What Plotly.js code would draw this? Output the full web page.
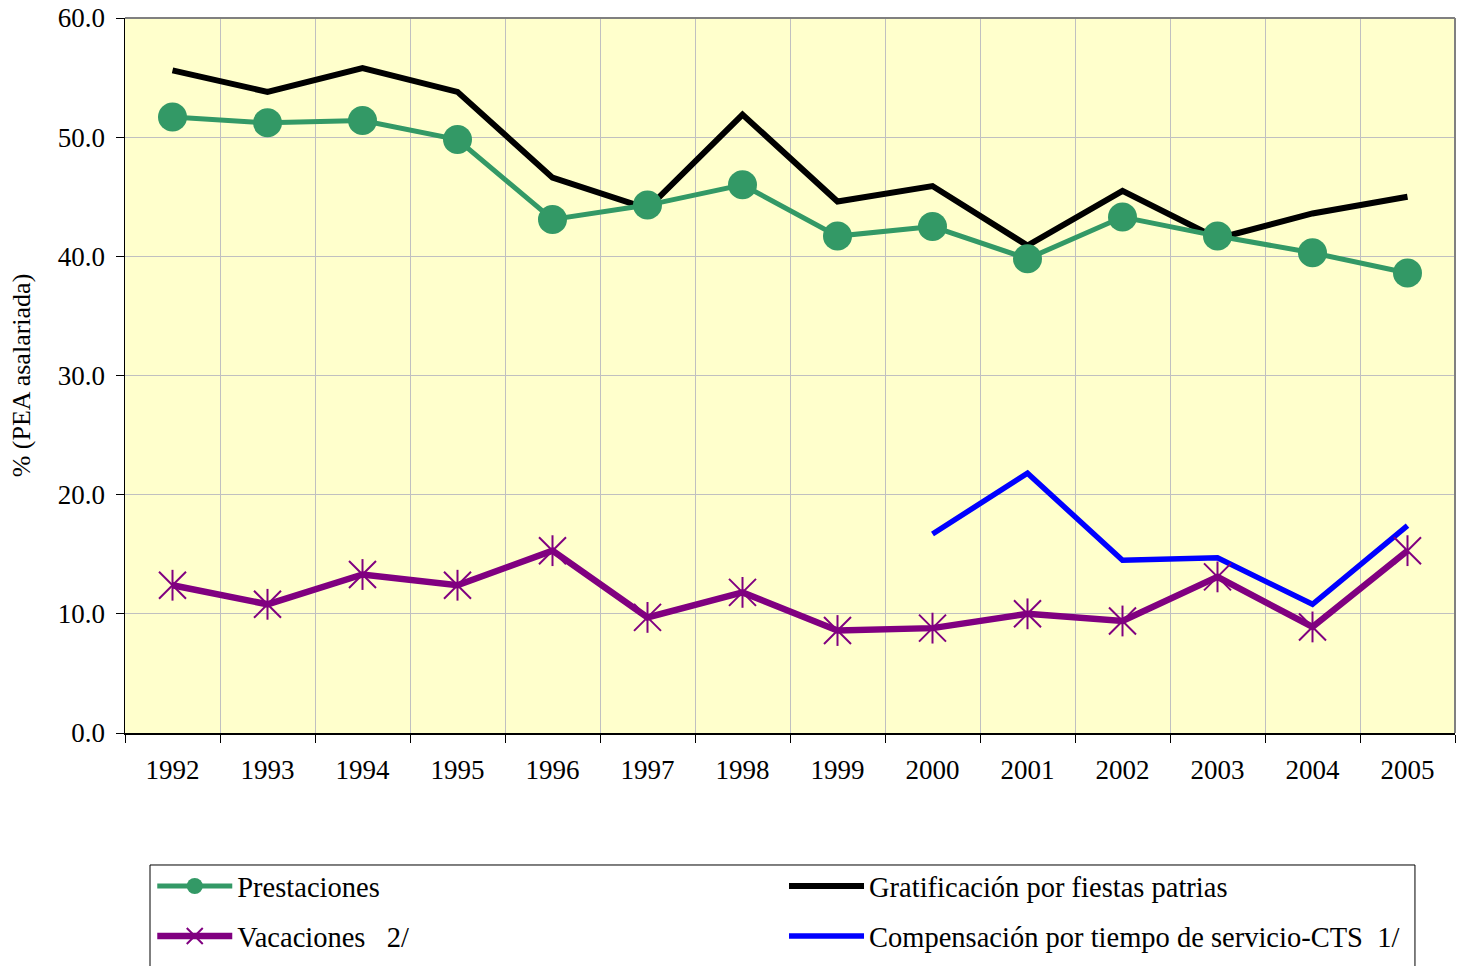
<!DOCTYPE html>
<html>
<head>
<meta charset="utf-8">
<script src="https://cdn.plot.ly/plotly-3.0.1.min.js"></script>
<style>html,body{margin:0;padding:0;background:#fff;}#chart{width:1461px;height:966px;}</style>
</head>
<body>
<div id="chart"></div>
<script>
var years = ["1992","1993","1994","1995","1996","1997","1998","1999","2000","2001","2002","2003","2004","2005"];
var prestaciones = [51.7, 51.2, 51.4, 49.8, 43.1, 44.3, 46.0, 41.7, 42.5, 39.8, 43.3, 41.7, 40.3, 38.6];
var gratificacion = [55.6, 53.8, 55.8, 53.8, 46.6, 44.0, 51.9, 44.6, 45.9, 40.9, 45.5, 41.5, 43.6, 45.0];
var vacaciones = [12.4, 10.8, 13.3, 12.4, 15.3, 9.7, 11.8, 8.6, 8.8, 10.0, 9.4, 13.1, 8.9, 15.3];
var cts = [null, null, null, null, null, null, null, null, 16.7, 21.8, 14.5, 14.7, 10.8, 17.4];
var yTicks = [0, 10, 20, 30, 40, 50, 60];

var serif = "Liberation Serif, Times New Roman, serif";

var traces = [
  {x: years, y: gratificacion, name: "Gratificación por fiestas patrias", mode: "lines",
   line: {color: "#000000", width: 6}, legend: "legend2", legendgroup: "g", legendrank: 1},
  {x: years, y: cts, name: "Compensación por tiempo de servicio-CTS  1/", mode: "lines",
   line: {color: "#0000FF", width: 5.5}, legend: "legend2", legendgroup: "c", legendrank: 2, connectgaps: false},
  {x: years, y: vacaciones, name: "Vacaciones   2/", mode: "lines+markers",
   line: {color: "#800080", width: 6.5},
   marker: {symbol: "x-thin-open", size: 27, color: "#800080", line: {color: "#800080", width: 2}},
   legend: "legend", legendgroup: "v", legendrank: 2},
  {x: years, y: vacaciones, name: "Vacaciones   2/", mode: "markers", showlegend: false,
   marker: {symbol: "line-ns-open", size: 22, color: "#800080", line: {color: "#800080", width: 2}},
   legend: "legend", legendgroup: "v"},
  {x: years, y: prestaciones, name: "Prestaciones", mode: "lines+markers",
   line: {color: "#339966", width: 5},
   marker: {symbol: "circle", size: 29, color: "#339966"}, legend: "legend", legendgroup: "p", legendrank: 1}
];

var legendCommon = {
  orientation: "v",
  yanchor: "top",
  y: -0.179,
  xanchor: "left",
  bgcolor: "rgba(0,0,0,0)",
  borderwidth: 0,
  font: {family: serif, size: 28.5, color: "#000"},
  itemwidth: 75,
  tracegroupgap: 10
};

var layout = {
  width: 1461, height: 966,
  margin: {l: 125, r: 6, t: 18, b: 233, autoexpand: false},
  paper_bgcolor: "#ffffff",
  plot_bgcolor: "#FFFFCC",
  showlegend: true,
  font: {family: serif, color: "#000000", size: 24},
  xaxis: {
    type: "category",
    tickson: "boundaries",
    ticks: "outside", ticklen: 8, tickcolor: "#000", tickwidth: 1,
    showgrid: true, gridcolor: "#C0C0C0", gridwidth: 1,
    showline: true, linecolor: "#000", linewidth: 1.5,
    tickfont: {family: serif, size: 27, color: "#000"},
    ticklabelstandoff: 12,
    range: [-0.5, 13.5],
    fixedrange: true, zeroline: false
  },
  yaxis: {
    range: [0, 60],
    tickvals: yTicks,
    tickformat: ".1f",
    ticks: "outside", ticklen: 8, tickcolor: "#000", tickwidth: 1,
    showgrid: true, gridcolor: "#C0C0C0", gridwidth: 1,
    showline: true, linecolor: "#000", linewidth: 1.5,
    zeroline: false,
    tickfont: {family: serif, size: 27, color: "#000"},
    ticklabelstandoff: 5,
    title: {text: "% (PEA asalariada)", font: {family: serif, size: 26, color: "#000"}, standoff: 19},
    automargin: false
  },
  shapes: [
    {type: "line", xref: "paper", yref: "paper", x0: 0, x1: 1, y0: 1, y1: 1, line: {color: "#808080", width: 2}},
    {type: "line", xref: "paper", yref: "paper", x0: 1, x1: 1, y0: 0, y1: 1, line: {color: "#808080", width: 2}},
    {type: "rect", xref: "paper", yref: "paper", x0: 0.0188, x1: 0.9699, y0: -0.1846, y1: -0.3273,
     line: {color: "#000000", width: 1}, fillcolor: "rgba(0,0,0,0)"}
  ],
  legend: Object.assign({}, legendCommon, {x: 0.0205}),
  legend2: Object.assign({}, legendCommon, {x: 0.4955})
};

Plotly.newPlot("chart", traces, layout, {displayModeBar: false, staticPlot: true});
</script>
</body>
</html>
